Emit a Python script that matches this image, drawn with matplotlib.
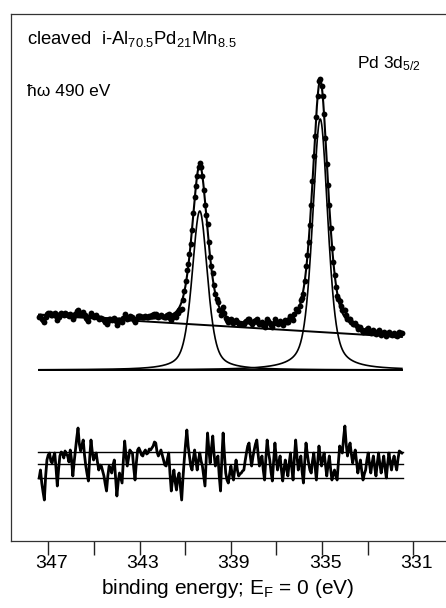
import numpy as np
import matplotlib.pyplot as plt
from matplotlib.transforms import ScaledTranslation

plt.rcParams['font.family'] = ['Liberation Sans', 'DejaVu Sans']
plt.rcParams['mathtext.fontset'] = 'custom'
plt.rcParams['mathtext.rm'] = 'Liberation Sans'
plt.rcParams['mathtext.it'] = 'Liberation Sans:italic'
plt.rcParams['mathtext.default'] = 'regular'

# energy range of the scan (eV)
e_start, e_end = 347.4, 331.5

# fit parameters (intensity in arbitrary units)
peak_centers = [340.36, 335.08]
peak_heights = [159, 251]
peak_fwhm = 0.8
peak_eta = 0.5          # lorentzian fraction of the pseudo-voigt
bg_start, bg_end = 55, 33

# fit residual (arbitrary units), high to low binding energy
residual = [
    -14, -6, -19, -28, -36, -12, 4, 9, 11, 3, 1, 7, 11, -4, -22, -5, 8, 12, 11, 6,
    13, 10, 8, 2, 14, 4, -12, 2, 14, 26, 36, 20, 13, 19, 24, 9, -2, -10, -17, 6,
    24, 12, 4, 8, 11, 2, -6, -1, -2, -7, -12, -20, -27, -12, -2, -4, -9, -1, 4, -14,
    -32, -18, -9, -14, -19, 4, 23, 9, -2, 6, 14, 12, 11, -4, -16, 1, 14, 16, 13, 9,
    8, 12, 14, 10, 11, 15, 14, 16, 18, 22, 21, 12, 8, 11, 14, 9, 4, -1, -2, 5,
    11, -10, -27, -15, -6, -18, -26, -14, -9, -22, -36, -14, 4, 20, 34, 18, 8, -2, -6, 5,
    14, 3, -6, 4, 11, 3, -2, -12, -22, 6, 31, 14, 1, 16, 28, 10, -2, 4, 8, -12,
    -27, 5, 31, 10, -9, -16, -19, -10, -2, -10, -16, -5, 4, -6, -12, -10, -9, -7, -6, 3,
    11, 18, 21, 8, -2, 7, 14, 20, 24, 10, -2, 4, 8, -6, -16, 6, 24, 12, 4, -8,
    -17, 3, 21, 6, -6, 2, 8, -6, -17, -5, 4, -5, -12, 1, 11, -4, -16, 6, 24, 8,
    -6, 2, 8, -8, -19, 2, 21, 10, 1, -6, -9, 3, 11, -3, -16, 2, 18, 7, -2, 6,
    11, -1, -12, -1, 8, -5, -16, -10, -6, -12, -16, 2, 18, 14, 11, 26, 38, 20, 8, 16,
    21, 10, 1, 8, 14, 2, -9, -2, 4, -7, -16, -10, -6, 4, 11, 0, -9, 1, 8, -3,
    -12, 1, 11, 0, -9, 0, 8, -4, -14, 0, 11, 2, -6, 3, 8, 0, -6, 5, 13, 12, 11,
]
resid_offset = -94
resid_band = [12.5, -14]
resid_to_data = 0.2

major_ticks = [347, 343, 339, 335, 331]
minor_ticks = [345, 341, 337, 333]


def pvoigt(e, c, h):
    x = (e - c) / peak_fwhm
    lor = 1.0 / (1.0 + 4 * x ** 2)
    gau = np.exp(-4 * np.log(2) * x ** 2)
    return h * (peak_eta * lor + (1 - peak_eta) * gau)


def background(e):
    return np.interp(e, [e_end, e_start], [bg_end, bg_start])


e_fine = np.linspace(e_start, e_end, 1200)
e_data = np.linspace(e_start, e_end, len(residual))
res = np.array(residual, dtype=float)

comps = [pvoigt(e_fine, c, h) for c, h in zip(peak_centers, peak_heights)]
fit_fine = background(e_fine) + sum(comps)
fit_data = background(e_data) + sum(pvoigt(e_data, c, h) for c, h in zip(peak_centers, peak_heights))
counts = fit_data + res * resid_to_data

W, H = 446, 608
fig = plt.figure(figsize=(W / 100, H / 100), dpi=100)
ax = fig.add_axes([11 / W, 67 / H, 1 - 11 / W, 527 / H])

# zero line, components, background
ax.plot([e_start, e_end], [0, 0], color='black', lw=1.4)
for comp in comps:
    ax.plot(e_fine, comp, color='black', lw=1.2)
ax.plot([e_start, e_end], [bg_start, bg_end], color='black', lw=1.4)

# fit envelope and data points
ax.plot(e_fine, fit_fine, color='black', lw=1.5)
ax.plot(e_data, counts, 'o', color='black', ms=4.2, mew=0)

# residual with band lines
for lvl in [0] + resid_band:
    ax.plot([e_start + 0.05, e_end - 0.05], [resid_offset + lvl] * 2, color='black', lw=1.0)
ax.plot(e_data, resid_offset + res, color='black', lw=2.0)

ax.set_xlim(348.635, 329.566)
ax.set_ylim(-171, 356)

ax.set_xticks(major_ticks)
ax.set_xticks(minor_ticks, minor=True)
ax.set_yticks([])
ax.tick_params(axis='x', which='both', direction='out', length=10, width=1.0,
               color='#222222', labelsize=14, pad=0)
shift = ScaledTranslation(3 / 100, 0, fig.dpi_scale_trans)
for lab in ax.get_xticklabels():
    lab.set_transform(lab.get_transform() + shift)
ax.spines['right'].set_visible(False)
for s in ['left', 'top', 'bottom']:
    ax.spines[s].set_color('#333333')
    ax.spines[s].set_linewidth(0.9)

fig.text(228 / W, 1 - 594 / H, 'binding energy; E$_F$ = 0 (eV)', fontsize=15,
         ha='center', va='baseline')

fig.text(27 / W, 1 - 44 / H, 'cleaved  i-Al$_{70.5}$Pd$_{21}$Mn$_{8.5}$',
         fontsize=13.3, ha='left', va='baseline')
fig.text(27 / W, 1 - 96 / H, 'ħω 490 eV', fontsize=12.5, ha='left', va='baseline')
fig.text(357 / W, 1 - 68 / H, 'Pd 3d$_{5/2}$', fontsize=12.5, ha='left', va='baseline')

fig.savefig('out.png', dpi=100)
